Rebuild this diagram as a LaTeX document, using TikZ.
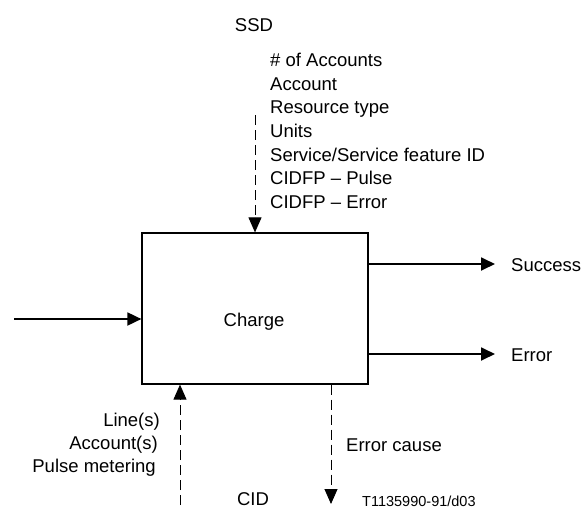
\documentclass[tikz,border=0pt]{standalone}
\usepackage{fontspec}
\setmainfont{Liberation Sans}
\usetikzlibrary{arrows.meta}
\begin{document}
\begin{tikzpicture}[x=1pt,y=-1pt,
  lbl/.style={inner sep=0pt,font=\fontsize{18.5}{22}\selectfont},
  flow/.style={line width=1.8pt,-{Triangle[length=14pt,width=13pt]}},
  ctl/.style={line width=0.9pt,dash pattern=on 10pt off 5pt,-{Triangle[length=15pt,width=13pt]}},
  procbox/.style={draw,line width=1.2pt,minimum width=226pt,minimum height=151pt,inner sep=0pt}]
\useasboundingbox (0,0) rectangle (587,509);
% box
\node[procbox] (charge) at (255,308.5) {};
\node[lbl,anchor=base] (chargetxt) at (254,326) {Charge};
% top
\node[lbl,anchor=base] (ssd) at (254,31.7) {SSD};
\node[lbl,anchor=base west] (l1) at (270,66.7) {\# of Accounts};
\node[lbl,anchor=base west] (l2) at (270,90.3) {Account};
\node[lbl,anchor=base west] (l3) at (270,113.9) {Resource type};
\node[lbl,anchor=base west] (l4) at (270,137.5) {Units};
\node[lbl,anchor=base west] (l5) at (270,161.1) {Service/Service feature ID};
\node[lbl,anchor=base west] (l6) at (270,184.7) {CIDFP – Pulse};
\node[lbl,anchor=base west] (l7) at (270,208.3) {CIDFP – Error};
\coordinate (topin) at (255,115);
\draw[ctl] (topin) -- (charge.north -| topin);
% left input
\coordinate (leftin) at (14,319);
\draw[flow] (leftin) -- (charge.west |- leftin);
% outputs
\node[lbl,anchor=base west] (succ) at (511,271.5) {Success};
\node[lbl,anchor=base west] (err) at (511,361) {Error};
\draw[flow] (charge.east |- 0,264) -- (495,264) coordinate (succtip);
\draw[flow] (charge.east |- 0,354) -- (495,354) coordinate (errtip);
% bottom left
\node[lbl,anchor=base east] (b1) at (160,426.5) {Line(s)};
\node[lbl,anchor=base east] (b2) at (158,449.5) {Account(s)};
\node[lbl,anchor=base east] (b3) at (156,472.5) {Pulse metering};
\coordinate (cidin) at (180,505);
\draw[ctl] (cidin) -- (charge.south -| cidin);
\node[lbl,anchor=base] (cid) at (253,505.5) {CID};
% bottom right
\coordinate (errout) at (331,504);
\draw[ctl] (charge.south -| errout) -- (errout);
\node[lbl,anchor=base west] (ecause) at (346,451.5) {Error cause};
\node[inner sep=0pt,anchor=base west,font=\fontsize{14.5}{17}\selectfont] (tag) at (362,506) {T1135990-91/d03};
\end{tikzpicture}
\end{document}
